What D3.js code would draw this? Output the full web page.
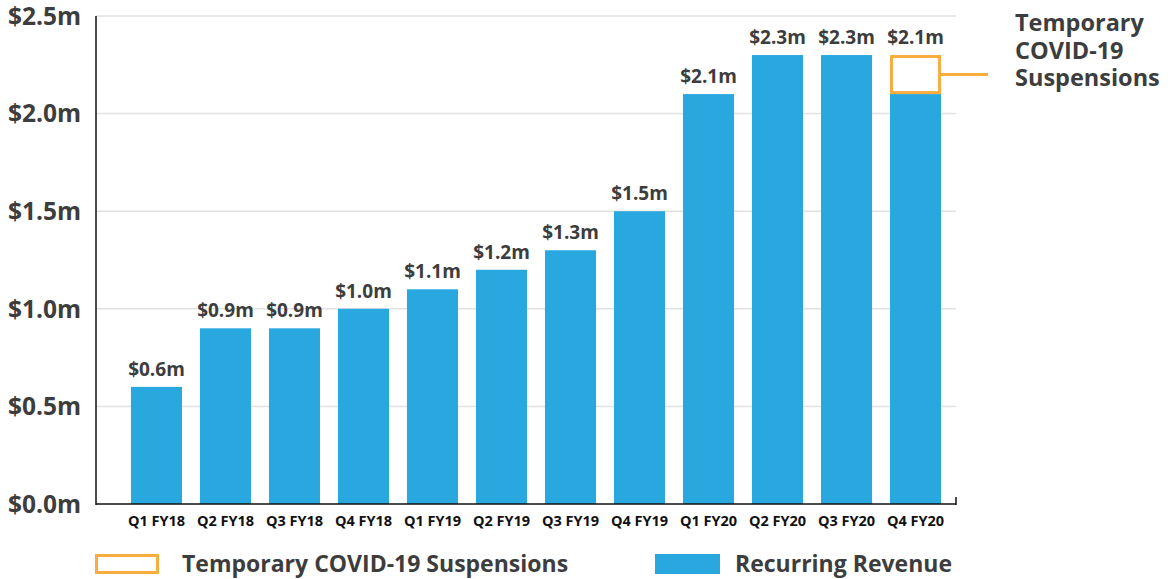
<!DOCTYPE html>
<html>
<head>
<meta charset="utf-8">
<script src="https://cdn.jsdelivr.net/npm/d3@7"></script>
<style>
  body { margin: 0; background: #fff; }
  text { font-family: "Open Sans", sans-serif; font-weight: 700; }
</style>
</head>
<body>
<div id="chart"></div>
<script>
const quarters = ["Q1 FY18", "Q2 FY18", "Q3 FY18", "Q4 FY18", "Q1 FY19", "Q2 FY19",
  "Q3 FY19", "Q4 FY19", "Q1 FY20", "Q2 FY20", "Q3 FY20", "Q4 FY20"];
const recurring = [0.6, 0.9, 0.9, 1.0, 1.1, 1.2, 1.3, 1.5, 2.1, 2.3, 2.3, 2.1];
const suspended = [0, 0, 0, 0, 0, 0, 0, 0, 0, 0, 0, 0.2];
const yTicks = [0, 0.5, 1.0, 1.5, 2.0, 2.5];

const width = 1174;
const height = 579;
const blue = "#29a8e0";
const orange = "#f9ad3e";
const textColor = "#3d3d3d";

const svg = d3.select("#chart").append("svg")
  .attr("width", width)
  .attr("height", height);

const x = d3.scaleBand()
  .domain(quarters)
  .range([113, 959])
  .padding(0.26);

const y = d3.scaleLinear()
  .domain([0, 2.5])
  .range([504, 16]);

const fmt = (d) => "$" + d.toFixed(1) + "m";

// grid lines
svg.append("g")
  .selectAll("line")
  .data(yTicks.slice(1))
  .enter()
  .append("line")
  .attr("x1", 96)
  .attr("x2", 956)
  .attr("y1", (d) => y(d))
  .attr("y2", (d) => y(d))
  .attr("stroke", "#e2e2e2")
  .attr("stroke-width", 1.5);

// y labels
svg.append("g")
  .selectAll("text")
  .data(yTicks)
  .enter()
  .append("text")
  .attr("x", 81)
  .attr("y", (d) => y(d))
  .attr("dy", "0.36em")
  .attr("text-anchor", "end")
  .attr("font-size", "24.5px")
  .attr("fill", textColor)
  .text(fmt);

// bars
svg.append("g")
  .selectAll("rect")
  .data(recurring)
  .enter()
  .append("rect")
  .attr("fill", blue)
  .attr("x", (d, i) => x(quarters[i]))
  .attr("y", (d) => y(d))
  .attr("width", x.bandwidth())
  .attr("height", (d) => y(0) - y(d));

// suspension boxes
quarters.forEach(function (q, i) {
  if (suspended[i] > 0) {
    const top = y(recurring[i] + suspended[i]);
    const bottom = y(recurring[i]);
    svg.append("rect")
      .attr("x", x(q) + 1.5)
      .attr("y", top + 1.5)
      .attr("width", x.bandwidth() - 3)
      .attr("height", bottom - top - 3)
      .attr("fill", "#fff")
      .attr("stroke", orange)
      .attr("stroke-width", 3);
    svg.append("line")
      .attr("x1", x(q) + x.bandwidth())
      .attr("x2", 988)
      .attr("y1", (top + bottom) / 2)
      .attr("y2", (top + bottom) / 2)
      .attr("stroke", orange)
      .attr("stroke-width", 3);
  }
});

// value labels
svg.append("g")
  .selectAll("text")
  .data(recurring)
  .enter()
  .append("text")
  .attr("x", (d, i) => x(quarters[i]) + x.bandwidth() / 2)
  .attr("y", (d, i) => y(d + suspended[i]) - 11)
  .attr("text-anchor", "middle")
  .attr("font-size", "19px")
  .attr("fill", textColor)
  .text(fmt);

// axes lines
svg.append("line")
  .attr("x1", 96).attr("x2", 96)
  .attr("y1", 16).attr("y2", 505)
  .attr("stroke", "#111").attr("stroke-width", 1.5);
svg.append("line")
  .attr("x1", 96).attr("x2", 956)
  .attr("y1", 504).attr("y2", 504)
  .attr("stroke", "#111").attr("stroke-width", 1.5);
svg.append("line")
  .attr("x1", 956).attr("x2", 956)
  .attr("y1", 497).attr("y2", 505)
  .attr("stroke", "#111").attr("stroke-width", 1.5);

// x labels
svg.append("g")
  .selectAll("text")
  .data(quarters)
  .enter()
  .append("text")
  .attr("x", (d) => x(d) + x.bandwidth() / 2)
  .attr("y", 526)
  .attr("text-anchor", "middle")
  .attr("font-size", "14.5px")
  .attr("fill", "#111")
  .text((d) => d);

// annotation
const note = ["Temporary", "COVID-19", "Suspensions"];
svg.append("g")
  .selectAll("text")
  .data(note)
  .enter()
  .append("text")
  .attr("x", 1015)
  .attr("y", (d, i) => 31 + i * 27.5)
  .attr("font-size", "23.5px")
  .attr("fill", textColor)
  .text((d) => d);

// legend
svg.append("rect")
  .attr("x", 96.5).attr("y", 555.5)
  .attr("width", 61).attr("height", 17)
  .attr("fill", "#fff")
  .attr("stroke", orange)
  .attr("stroke-width", 3);
svg.append("text")
  .attr("x", 182).attr("y", 572)
  .attr("font-size", "23px")
  .attr("fill", textColor)
  .text("Temporary COVID-19 Suspensions");
svg.append("rect")
  .attr("x", 655).attr("y", 554)
  .attr("width", 65).attr("height", 20)
  .attr("fill", blue);
svg.append("text")
  .attr("x", 735).attr("y", 572)
  .attr("font-size", "23px")
  .attr("fill", textColor)
  .text("Recurring Revenue");
</script>
</body>
</html>
